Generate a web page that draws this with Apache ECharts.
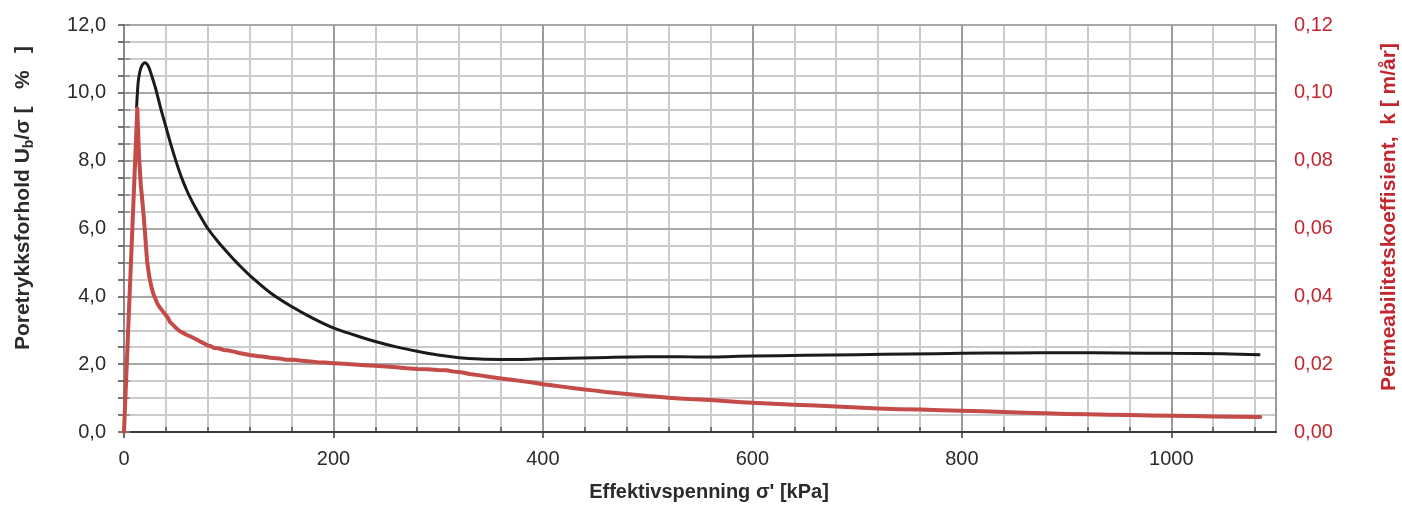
<!DOCTYPE html>
<html>
<head>
<meta charset="utf-8">
<script src="https://cdn.jsdelivr.net/npm/echarts@6/dist/echarts.min.js"></script>
<style>
  html, body { margin: 0; padding: 0; background: #ffffff; }
  #chart { width: 1402px; height: 506px; }
</style>
</head>
<body>
<div id="chart"></div>
<script>
// Effective stress [kPa] and pore pressure ratio Ub/sigma [%]
const stressBlack = [12, 13.5, 15, 17, 20, 23, 26, 30, 35, 40, 45, 50, 55, 60, 65, 70, 75, 80, 90, 100, 110, 120, 140, 160, 180, 200, 220, 240, 260, 280, 300, 320, 340, 360, 380, 400, 450, 500, 530, 550, 575, 600, 650, 700, 750, 800, 850, 900, 950, 1000, 1050, 1085];
const poreRatio   = [9.55, 10.3, 10.6, 10.8, 10.89, 10.8, 10.55, 10.15, 9.55, 9.0, 8.45, 7.95, 7.5, 7.12, 6.8, 6.52, 6.25, 6.0, 5.6, 5.25, 4.92, 4.62, 4.1, 3.7, 3.36, 3.07, 2.86, 2.67, 2.51, 2.38, 2.27, 2.19, 2.15, 2.14, 2.14, 2.16, 2.19, 2.22, 2.22, 2.21, 2.22, 2.24, 2.26, 2.28, 2.30, 2.32, 2.33, 2.34, 2.33, 2.32, 2.31, 2.28];

// Effective stress [kPa] and permeability k [m/år]
const stressRed = [0, 6.3, 12.7, 14.3, 16, 18, 20, 22, 24, 26, 28, 30, 32, 34, 36, 38, 40, 42, 44, 46, 48, 50, 53, 56, 60, 64, 68, 72, 76, 80, 83, 86, 90, 95, 100, 105, 110, 115, 120, 127, 134, 140, 148, 155, 162, 170, 178, 185, 192, 200, 210, 220, 230, 240, 250, 260, 270, 280, 290, 300, 308, 315, 322, 330, 340, 350, 360, 370, 380, 390, 400, 410, 420, 430, 440, 450, 460, 470, 480, 490, 500, 510, 520, 530, 540, 550, 560, 570, 580, 590, 600, 620, 640, 660, 680, 700, 720, 740, 760, 780, 800, 820, 840, 860, 880, 900, 920, 940, 960, 980, 1000, 1020, 1040, 1060, 1085];
const permeability = [0, 0.0475, 0.0954, 0.0815, 0.073, 0.0665, 0.059, 0.0505, 0.046, 0.043, 0.0408, 0.0392, 0.0378, 0.0368, 0.036, 0.0352, 0.0344, 0.0336, 0.0324, 0.0318, 0.0312, 0.0306, 0.0298, 0.0293, 0.0286, 0.0281, 0.0275, 0.0268, 0.0262, 0.0255, 0.0253, 0.0248, 0.0247, 0.0242, 0.024, 0.0237, 0.0233, 0.023, 0.0227, 0.0224, 0.0222, 0.0219, 0.0217, 0.0213, 0.0213, 0.021, 0.0208, 0.0206, 0.0205, 0.0203, 0.0201, 0.0199, 0.0197, 0.0195, 0.0193, 0.0191, 0.0188, 0.0186, 0.0185, 0.0183, 0.0182, 0.0178, 0.0176, 0.0171, 0.0167, 0.0162, 0.0158, 0.0154, 0.015, 0.0146, 0.0141, 0.0137, 0.0133, 0.0129, 0.0125, 0.0122, 0.0118, 0.0115, 0.0112, 0.0109, 0.0106, 0.0104, 0.0101, 0.0099, 0.0097, 0.0096, 0.0094, 0.0092, 0.009, 0.0088, 0.0086, 0.0083, 0.008, 0.0078, 0.0075, 0.0072, 0.0069, 0.0067, 0.0066, 0.0064, 0.0063, 0.0061, 0.0059, 0.0057, 0.0055, 0.0053, 0.0052, 0.0051, 0.005, 0.0049, 0.0048, 0.0047, 0.0046, 0.0045, 0.0044];

const FONT = '"Liberation Sans", Arial, sans-serif';
const RED_TEXT = '#c4262e';
const RED_LINE = '#c44b47';
const comma = (v, d) => v.toFixed(d).replace('.', ',');

const chart = echarts.init(document.getElementById('chart'), null, { renderer: 'canvas' });

chart.setOption({
  animation: false,
  backgroundColor: '#ffffff',
  grid: {
    left: 124, right: 126, top: 25, bottom: 74,
    show: true, borderColor: '#8a8a8a', borderWidth: 2, backgroundColor: 'transparent'
  },
  xAxis: [
    { // fine 40 kPa grid
      type: 'value', min: 0, max: 1100, interval: 40, position: 'bottom', z: 0,
      axisLine: { show: false },
      axisLabel: { show: false },
      axisTick: { show: true, inside: true, length: 5, lineStyle: { color: '#555', width: 1.5 } },
      splitLine: { show: true, lineStyle: { color: '#cbcbcb', width: 2 } }
    },
    { // labelled 200 kPa axis
      type: 'value', min: 0, max: 1100, interval: 200, position: 'bottom', z: 1,
      axisLine: { show: true, lineStyle: { color: '#3a3a3a', width: 2 } },
      axisTick: { show: true, inside: false, length: 6, lineStyle: { color: '#3a3a3a', width: 1.5 } },
      axisLabel: { show: true, showMaxLabel: false, margin: 17, fontFamily: FONT, fontSize: 20, color: '#2b2b2b', formatter: v => String(v) },
      splitLine: { show: true, lineStyle: { color: '#9a9a9a', width: 2 } }
    }
  ],
  yAxis: [
    {
      type: 'value', min: 0, max: 12, interval: 2, position: 'left', z: 1,
      axisLine: { show: true, lineStyle: { color: '#4a4a4a', width: 2 } },
      axisTick: { show: true, inside: false, length: 6, lineStyle: { color: '#4a4a4a', width: 1.5 } },
      minorTick: { show: true, splitNumber: 4, length: 6, lineStyle: { color: '#4a4a4a', width: 1.5 } },
      axisLabel: { margin: 18, fontFamily: FONT, fontSize: 20, color: '#2b2b2b', formatter: v => comma(v, 1) },
      splitLine: { show: true, lineStyle: { color: '#a8a8a8', width: 2 } },
      minorSplitLine: { show: true, lineStyle: { color: '#cbcbcb', width: 2 } }
    },
    {
      type: 'value', min: 0, max: 0.12, interval: 0.02, position: 'right', z: 1,
      axisLine: { show: true, lineStyle: { color: '#8a8a8a', width: 2 } },
      axisTick: { show: true, inside: false, length: 6, lineStyle: { color: '#8a8a8a', width: 1.5 } },
      minorTick: { show: true, splitNumber: 4, length: 6, lineStyle: { color: '#8a8a8a', width: 1.5 } },
      axisLabel: { margin: 18, fontFamily: FONT, fontSize: 20, color: RED_TEXT, formatter: v => comma(v, 2) },
      splitLine: { show: false }
    }
  ],
  series: [
    {
      name: 'Ub/σ', type: 'line', xAxisIndex: 1, yAxisIndex: 0,
      data: stressBlack.map((x, i) => [x, poreRatio[i]]),
      showSymbol: false, smooth: 0.35, z: 3,
      lineStyle: { color: '#1c1a1a', width: 3 }
    },
    {
      name: 'k', type: 'line', xAxisIndex: 1, yAxisIndex: 1,
      data: stressRed.map((x, i) => [x, permeability[i]]),
      showSymbol: false, smooth: false, z: 4,
      lineStyle: { color: RED_LINE, width: 4, join: 'round', cap: 'round' }
    }
  ],
  graphic: [
    {
      type: 'text', x: 23, y: 198, rotation: Math.PI / 2,
      style: {
        text: '{t|Poretrykksforhold U}{s|b}{t|/σ [   %   ]}',
        align: 'center', verticalAlign: 'middle',
        rich: {
          t: { fontFamily: FONT, fontSize: 21, fontWeight: 'bold', fill: '#2b2b2b', lineHeight: 26 },
          s: { fontFamily: FONT, fontSize: 14, fontWeight: 'bold', fill: '#2b2b2b', lineHeight: 15, verticalAlign: 'bottom' }
        }
      }
    },
    {
      type: 'text', x: 1389, y: 217, rotation: Math.PI / 2,
      style: {
        text: 'Permeabilitetskoeffisient,  k [ m/år]',
        align: 'center', verticalAlign: 'middle',
        fontFamily: FONT, fontSize: 21, fontWeight: 'bold', fill: RED_TEXT
      }
    },
    {
      type: 'text', x: 709, y: 492,
      style: {
        text: "Effektivspenning σ' [kPa]",
        align: 'center', verticalAlign: 'middle',
        fontFamily: FONT, fontSize: 20, fontWeight: 'bold', fill: '#2b2b2b'
      }
    }
  ]
});
</script>
</body>
</html>
